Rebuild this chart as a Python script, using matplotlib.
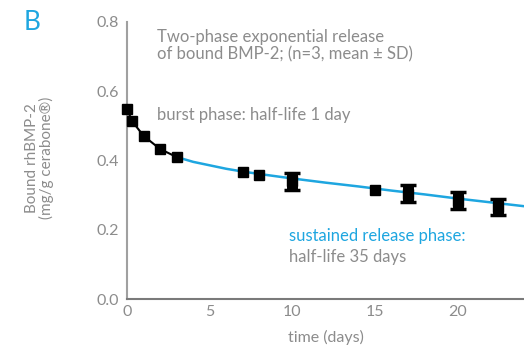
import matplotlib
matplotlib.use("Agg")
import matplotlib.pyplot as plt
from matplotlib import font_manager

# Data
days = [0, 0.3, 1, 2, 3, 7, 8, 10, 15, 17, 20, 22.4]
bound = [0.549, 0.514, 0.471, 0.433, 0.410, 0.367, 0.359, 0.340, 0.316, 0.304, 0.284, 0.266]
sd = [0, 0, 0, 0, 0, 0, 0, 0.025, 0, 0.024, 0.025, 0.024]

fit_days = [3, 4, 5, 6, 7, 8, 10, 12, 14, 16, 18, 20, 22, 24]
fit_vals = [0.410, 0.396, 0.386, 0.376, 0.368, 0.361, 0.348, 0.336, 0.325, 0.313, 0.302, 0.290, 0.279, 0.268]

xticks = [0, 5, 10, 15, 20]
yticks = [0.0, 0.2, 0.4, 0.6, 0.8]

gray = "#8c8c8c"
blue = "#1ea6e0"

names = {f.name for f in font_manager.fontManager.ttflist}
fam = "Lato" if "Lato" in names else "DejaVu Sans"
plt.rcParams["font.family"] = [fam, "DejaVu Sans"]

fig = plt.figure(figsize=(5.24, 3.59), dpi=100)
ax = fig.add_axes([0.2424, 0.167, 0.7576, 0.772])

ax.plot(fit_days, fit_vals, color=blue, lw=1.8, zorder=2)
ax.plot(days[:5], bound[:5], color="black", lw=1.5, zorder=2, clip_on=False)
ax.plot(days, bound, "s", color="black", ms=7.9, zorder=3, clip_on=False)
eb_x = [d for d, s in zip(days, sd) if s > 0]
eb_y = [b for b, s in zip(bound, sd) if s > 0]
eb_e = [s for s in sd if s > 0]
ax.errorbar(eb_x, eb_y, yerr=eb_e, fmt="none", ecolor="black",
            elinewidth=7.9, capsize=6, capthick=2.5, zorder=3)

ax.set_xlim(0, 24)
ax.set_ylim(0, 0.8)
ax.set_xticks(xticks)
ax.set_yticks(yticks)
ax.set_xticklabels([str(t) for t in xticks])
ax.set_yticklabels([f"{t:.1f}" for t in yticks])
ax.tick_params(length=0, labelsize=11.5, labelcolor=gray, pad=4)
ax.tick_params(axis="y", pad=6)
ax.set_xticks([0], minor=True)
ax.set_yticks([0], minor=True)
ax.tick_params(which="minor", length=4, width=1.2, color=gray)

for s in ["top", "right"]:
    ax.spines[s].set_visible(False)
ax.spines["left"].set_color("#a0a0a0")
ax.spines["left"].set_linewidth(1.5)
ax.spines["bottom"].set_color("#7a7a7a")
ax.spines["bottom"].set_linewidth(1.5)

ax.set_xlabel("time (days)", color=gray, fontsize=11.5, labelpad=8)
fig.text(0.075, 0.56, "Bound rhBMP-2\n(mg/g cerabone\u00ae)", rotation=90,
         ha="center", va="center", color=gray, fontsize=11, linespacing=1.0)

fig.text(0.045, 0.936, "B", color=blue, fontsize=19, ha="left", va="center")

fig.text(0.30, 0.872, "Two-phase exponential release\nof bound BMP-2; (n=3, mean \u00b1 SD)",
         color=gray, fontsize=12, ha="left", va="center", linespacing=1.1)
fig.text(0.30, 0.68, "burst phase: half-life 1 day", color=gray, fontsize=12,
         ha="left", va="center")
fig.text(0.551, 0.342, "sustained release phase:", color=blue, fontsize=12,
         ha="left", va="center")
fig.text(0.551, 0.285, "half-life 35 days", color=gray, fontsize=12,
         ha="left", va="center")

fig.savefig("out.png", dpi=100)
